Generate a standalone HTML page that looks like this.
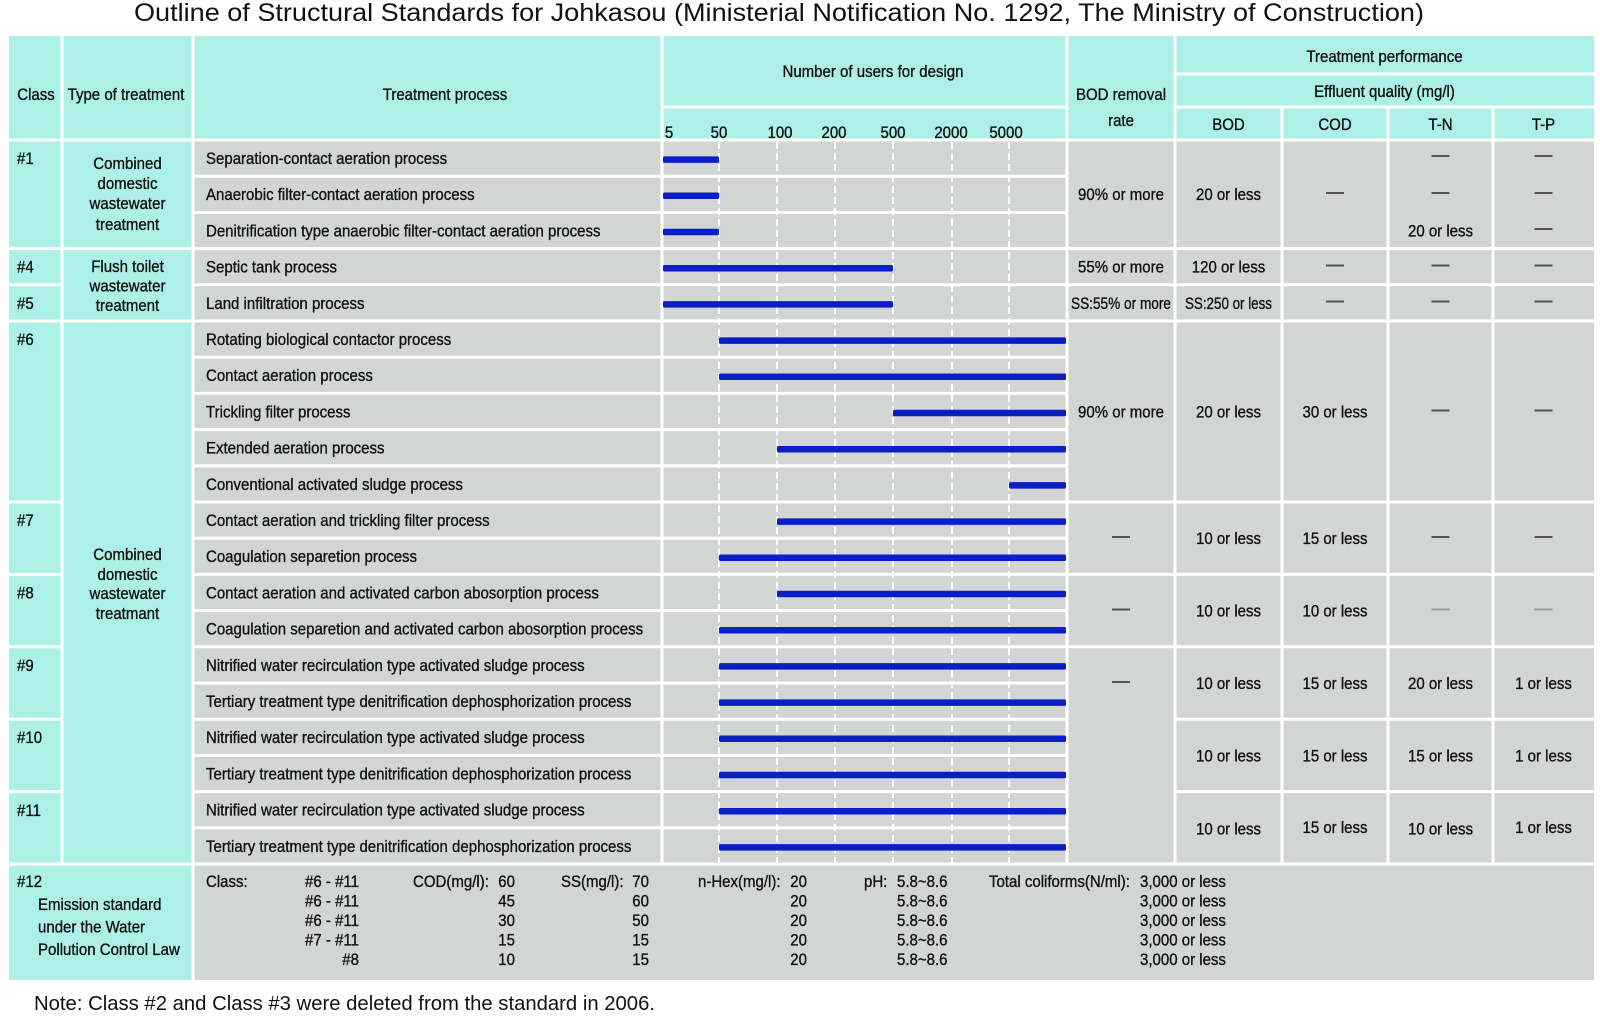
<!DOCTYPE html>
<html>
<head>
<meta charset="utf-8">
<style>
  html,body{margin:0;padding:0;background:#ffffff;}
  svg{display:block;}
  .t{font-family:"Liberation Sans",Arial,sans-serif;font-size:16.5px;fill:#111;stroke:#111;stroke-width:0.35px;}
  .r{font-family:"Liberation Sans",Arial,sans-serif;fill:#111;}
</style>
</head>
<body>
<svg width="1600" height="1021" viewBox="0 0 1600 1021" xmlns="http://www.w3.org/2000/svg">
  <!-- Title -->
  <text class="r" x="134" y="21" font-size="25" textLength="1290" lengthAdjust="spacingAndGlyphs">Outline of Structural Standards for Johkasou (Ministerial Notification No. 1292, The Ministry of Construction)</text>

  <!-- Backgrounds -->
  <rect x="9" y="36" width="1585" height="104" fill="#adf0e7"/>
  <rect x="9" y="140" width="184" height="840" fill="#adf0e7"/>
  <rect x="193" y="140" width="1401" height="840" fill="#d3d5d5"/>

  <!-- Dashed tick lines -->
  <g stroke="#ffffff" stroke-width="2" stroke-dasharray="7 4" fill="none">
    <path d="M719 142 V864 M777 142 V864 M835 142 V864 M893 142 V864 M952 142 V864 M1009 142 V864"/>
  </g>

  <!-- Grid lines -->
  <g stroke="#ffffff" stroke-width="3" fill="none">
    <path d="M62 36 V864 M193 36 V980 M662 36 V864 M1067 36 V864 M1175 36 V864 M1282 107 V864 M1388 107 V864 M1493 107 V864"/>
    <path d="M9 140 H1594 M662 107 H1067 M1175 107 H1594 M1175 74 H1594 M9 864 H1594"/>
    <path d="M193 176.2 H1067 M193 212.4 H1067 M193 248.6 H1067 M193 284.8 H1067 M193 321 H1067 M193 357.2 H1067 M193 393.4 H1067 M193 429.6 H1067 M193 465.8 H1067 M193 502 H1067 M193 538.2 H1067 M193 574.4 H1067 M193 610.6 H1067 M193 646.8 H1067 M193 683 H1067 M193 719.2 H1067 M193 755.4 H1067 M193 791.6 H1067 M193 827.8 H1067"/>
    <path d="M9 248.6 H62 M9 284.8 H62 M9 321 H62 M9 502 H62 M9 574.4 H62 M9 646.8 H62 M9 719.2 H62 M9 791.6 H62"/>
    <path d="M62 248.6 H193 M62 321 H193"/>
    <path d="M1067 248.6 H1175 M1067 284.8 H1175 M1067 321 H1175 M1067 502 H1175 M1067 574.4 H1175 M1067 646.8 H1175"/>
    <path d="M1175 248.6 H1594 M1175 284.8 H1594 M1175 321 H1594 M1175 502 H1594 M1175 574.4 H1594 M1175 646.8 H1594 M1175 719.2 H1594 M1175 791.6 H1594"/>
  </g>

  <!-- Bars -->
  <g fill="#0a1ec8">
    <rect x="663" y="156.35" width="56" height="6.5" rx="1.5"/>
    <rect x="663" y="192.55" width="56" height="6.5" rx="1.5"/>
    <rect x="663" y="228.75" width="56" height="6.5" rx="1.5"/>
    <rect x="663" y="264.95" width="230" height="6.5" rx="1.5"/>
    <rect x="663" y="301.15" width="230" height="6.5" rx="1.5"/>
    <rect x="719" y="337.35" width="347" height="6.5" rx="1.5"/>
    <rect x="719" y="373.55" width="347" height="6.5" rx="1.5"/>
    <rect x="893" y="409.75" width="173" height="6.5" rx="1.5"/>
    <rect x="777" y="445.95" width="289" height="6.5" rx="1.5"/>
    <rect x="1009" y="482.15" width="57" height="6.5" rx="1.5"/>
    <rect x="777" y="518.35" width="289" height="6.5" rx="1.5"/>
    <rect x="719" y="554.55" width="347" height="6.5" rx="1.5"/>
    <rect x="777" y="590.75" width="289" height="6.5" rx="1.5"/>
    <rect x="719" y="626.95" width="347" height="6.5" rx="1.5"/>
    <rect x="719" y="663.15" width="347" height="6.5" rx="1.5"/>
    <rect x="719" y="699.35" width="347" height="6.5" rx="1.5"/>
    <rect x="719" y="735.55" width="347" height="6.5" rx="1.5"/>
    <rect x="719" y="771.75" width="347" height="6.5" rx="1.5"/>
    <rect x="719" y="807.95" width="347" height="6.5" rx="1.5"/>
    <rect x="719" y="844.15" width="347" height="6.5" rx="1.5"/>
  </g>

  <!-- Header texts -->
  <g class="t" text-anchor="middle">
    <text transform="translate(36 100) scale(.91 1)">Class</text>
    <text transform="translate(126 100) scale(.91 1)">Type of treatment</text>
    <text transform="translate(445 100) scale(.91 1)">Treatment process</text>
    <text transform="translate(873 77) scale(.91 1)">Number of users for design</text>
    <text transform="translate(669 138) scale(.91 1)">5</text>
    <text transform="translate(719 138) scale(.91 1)">50</text>
    <text transform="translate(780 138) scale(.91 1)">100</text>
    <text transform="translate(834 138) scale(.91 1)">200</text>
    <text transform="translate(893 138) scale(.91 1)">500</text>
    <text transform="translate(951 138) scale(.91 1)">2000</text>
    <text transform="translate(1006 138) scale(.91 1)">5000</text>
    <text transform="translate(1121 100) scale(.91 1)">BOD removal</text>
    <text transform="translate(1121 126) scale(.91 1)">rate</text>
    <text transform="translate(1384.5 62) scale(.91 1)">Treatment performance</text>
    <text transform="translate(1384.5 97) scale(.91 1)">Effluent quality (mg/l)</text>
    <text transform="translate(1228.5 130) scale(.91 1)">BOD</text>
    <text transform="translate(1335 130) scale(.91 1)">COD</text>
    <text transform="translate(1440.5 130) scale(.91 1)">T-N</text>
    <text transform="translate(1543.5 130) scale(.91 1)">T-P</text>
  </g>

  <!-- Class labels -->
  <g class="t">
    <text transform="translate(17 164) scale(.91 1)">#1</text>
    <text transform="translate(17 272.7) scale(.91 1)">#4</text>
    <text transform="translate(17 309) scale(.91 1)">#5</text>
    <text transform="translate(17 345) scale(.91 1)">#6</text>
    <text transform="translate(17 526) scale(.91 1)">#7</text>
    <text transform="translate(17 598.5) scale(.91 1)">#8</text>
    <text transform="translate(17 671) scale(.91 1)">#9</text>
    <text transform="translate(17 743) scale(.91 1)">#10</text>
    <text transform="translate(17 816) scale(.91 1)">#11</text>
    <text transform="translate(17 887) scale(.91 1)">#12</text>
    <text transform="translate(38 910) scale(.91 1)">Emission standard</text>
    <text transform="translate(38 932.5) scale(.91 1)">under the Water</text>
    <text transform="translate(38 955) scale(.91 1)">Pollution Control Law</text>
  </g>

  <!-- Type of treatment -->
  <g class="t" text-anchor="middle">
    <text transform="translate(127.5 169) scale(.91 1)">Combined</text>
    <text transform="translate(127.5 189) scale(.91 1)">domestic</text>
    <text transform="translate(127.5 209) scale(.91 1)">wastewater</text>
    <text transform="translate(127.5 230) scale(.91 1)">treatment</text>
    <text transform="translate(127.5 272) scale(.91 1)">Flush toilet</text>
    <text transform="translate(127.5 291.5) scale(.91 1)">wastewater</text>
    <text transform="translate(127.5 311) scale(.91 1)">treatment</text>
    <text transform="translate(127.5 560) scale(.91 1)">Combined</text>
    <text transform="translate(127.5 580) scale(.91 1)">domestic</text>
    <text transform="translate(127.5 599) scale(.91 1)">wastewater</text>
    <text transform="translate(127.5 619) scale(.91 1)">treatmant</text>
  </g>

  <!-- Treatment process names -->
  <g class="t">
    <text transform="translate(206 164) scale(.91 1)">Separation-contact aeration process</text>
    <text transform="translate(206 200) scale(.91 1)">Anaerobic filter-contact aeration process</text>
    <text transform="translate(206 236.5) scale(.91 1)">Denitrification type anaerobic filter-contact aeration process</text>
    <text transform="translate(206 272.7) scale(.91 1)">Septic tank process</text>
    <text transform="translate(206 309) scale(.91 1)">Land infiltration process</text>
    <text transform="translate(206 345) scale(.91 1)">Rotating biological contactor process</text>
    <text transform="translate(206 381) scale(.91 1)">Contact aeration process</text>
    <text transform="translate(206 417.5) scale(.91 1)">Trickling filter process</text>
    <text transform="translate(206 453.7) scale(.91 1)">Extended aeration process</text>
    <text transform="translate(206 490) scale(.91 1)">Conventional activated sludge process</text>
    <text transform="translate(206 526) scale(.91 1)">Contact aeration and trickling filter process</text>
    <text transform="translate(206 562) scale(.91 1)">Coagulation separetion process</text>
    <text transform="translate(206 598.5) scale(.91 1)">Contact aeration and activated carbon abosorption process</text>
    <text transform="translate(206 634.7) scale(.91 1)">Coagulation separetion and activated carbon abosorption process</text>
    <text transform="translate(206 671) scale(.91 1)">Nitrified water recirculation type activated sludge process</text>
    <text transform="translate(206 707) scale(.91 1)">Tertiary treatment type denitrification dephosphorization process</text>
    <text transform="translate(206 743) scale(.91 1)">Nitrified water recirculation type activated sludge process</text>
    <text transform="translate(206 779.5) scale(.91 1)">Tertiary treatment type denitrification dephosphorization process</text>
    <text transform="translate(206 815.7) scale(.91 1)">Nitrified water recirculation type activated sludge process</text>
    <text transform="translate(206 852) scale(.91 1)">Tertiary treatment type denitrification dephosphorization process</text>
  </g>

  <!-- Performance values -->
  <g class="t" text-anchor="middle">
    <text transform="translate(1121 200) scale(.91 1)">90% or more</text>
    <text transform="translate(1228.5 200) scale(.91 1)">20 or less</text>
    <text transform="translate(1440.5 236.5) scale(.91 1)">20 or less</text>
    <text transform="translate(1121 272.7) scale(.91 1)">55% or more</text>
    <text transform="translate(1228.5 272.7) scale(.91 1)">120 or less</text>
    <text x="1121" y="309" textLength="100" lengthAdjust="spacingAndGlyphs">SS:55% or more</text>
    <text x="1228.5" y="309" textLength="87" lengthAdjust="spacingAndGlyphs">SS:250 or less</text>
    <text transform="translate(1121 417.5) scale(.91 1)">90% or more</text>
    <text transform="translate(1228.5 417.5) scale(.91 1)">20 or less</text>
    <text transform="translate(1335 417.5) scale(.91 1)">30 or less</text>
    <text transform="translate(1228.5 544) scale(.91 1)">10 or less</text>
    <text transform="translate(1335 544) scale(.91 1)">15 or less</text>
    <text transform="translate(1228.5 616.5) scale(.91 1)">10 or less</text>
    <text transform="translate(1335 616.5) scale(.91 1)">10 or less</text>
    <text transform="translate(1228.5 689) scale(.91 1)">10 or less</text>
    <text transform="translate(1335 689) scale(.91 1)">15 or less</text>
    <text transform="translate(1440.5 689) scale(.91 1)">20 or less</text>
    <text transform="translate(1543.5 689) scale(.91 1)">1 or less</text>
    <text transform="translate(1228.5 761.5) scale(.91 1)">10 or less</text>
    <text transform="translate(1335 761.5) scale(.91 1)">15 or less</text>
    <text transform="translate(1440.5 761.5) scale(.91 1)">15 or less</text>
    <text transform="translate(1543.5 761.5) scale(.91 1)">1 or less</text>
    <text transform="translate(1228.5 834.5) scale(.91 1)">10 or less</text>
    <text transform="translate(1335 833) scale(.91 1)">15 or less</text>
    <text transform="translate(1440.5 834.5) scale(.91 1)">10 or less</text>
    <text transform="translate(1543.5 833) scale(.91 1)">1 or less</text>
  </g>

  <!-- Dashes (—) -->
  <g fill="#555">
    <rect x="1326" y="192" width="18" height="2"/>
    <rect x="1431.5" y="155" width="18" height="2"/>
    <rect x="1431.5" y="192" width="18" height="2"/>
    <rect x="1534.5" y="155" width="18" height="2"/>
    <rect x="1534.5" y="192" width="18" height="2"/>
    <rect x="1534.5" y="228" width="18" height="2"/>
    <rect x="1326" y="264.5" width="18" height="2"/>
    <rect x="1431.5" y="264.5" width="18" height="2"/>
    <rect x="1534.5" y="264.5" width="18" height="2"/>
    <rect x="1326" y="300.5" width="18" height="2"/>
    <rect x="1431.5" y="300.5" width="18" height="2"/>
    <rect x="1534.5" y="300.5" width="18" height="2"/>
    <rect x="1431.5" y="409.5" width="18" height="2"/>
    <rect x="1534.5" y="409.5" width="18" height="2"/>
    <rect x="1112" y="536" width="18" height="2"/>
    <rect x="1431.5" y="536" width="18" height="2"/>
    <rect x="1534.5" y="536" width="18" height="2"/>
    <rect x="1112" y="608.5" width="18" height="2"/>
    <rect x="1112" y="681" width="18" height="2"/>
  </g>
  <g fill="#9a9c9c">
    <rect x="1431.5" y="608.5" width="18" height="2"/>
    <rect x="1534.5" y="608.5" width="18" height="2"/>
  </g>

  <!-- #12 emission standard block -->
  <g class="t">
    <text transform="translate(206 887) scale(.91 1)">Class:</text>
    <text transform="translate(413 887) scale(.91 1)">COD(mg/l):</text>
    <text transform="translate(561 887) scale(.91 1)">SS(mg/l):</text>
    <text transform="translate(698 887) scale(.91 1)">n-Hex(mg/l):</text>
    <text transform="translate(864 887) scale(.91 1)">pH:</text>
    <text transform="translate(989 887) scale(.91 1)">Total coliforms(N/ml):</text>

    <text transform="translate(897 887) scale(.91 1)">5.8~8.6</text>
    <text transform="translate(897 906.5) scale(.91 1)">5.8~8.6</text>
    <text transform="translate(897 926) scale(.91 1)">5.8~8.6</text>
    <text transform="translate(897 945.5) scale(.91 1)">5.8~8.6</text>
    <text transform="translate(897 965) scale(.91 1)">5.8~8.6</text>

    <text transform="translate(1140 887) scale(.91 1)">3,000 or less</text>
    <text transform="translate(1140 906.5) scale(.91 1)">3,000 or less</text>
    <text transform="translate(1140 926) scale(.91 1)">3,000 or less</text>
    <text transform="translate(1140 945.5) scale(.91 1)">3,000 or less</text>
    <text transform="translate(1140 965) scale(.91 1)">3,000 or less</text>
  </g>
  <g class="t" text-anchor="end">
    <text transform="translate(359 887) scale(.91 1)">#6 - #11</text>
    <text transform="translate(359 906.5) scale(.91 1)">#6 - #11</text>
    <text transform="translate(359 926) scale(.91 1)">#6 - #11</text>
    <text transform="translate(359 945.5) scale(.91 1)">#7 - #11</text>
    <text transform="translate(359 965) scale(.91 1)">#8</text>

    <text transform="translate(515 887) scale(.91 1)">60</text>
    <text transform="translate(515 906.5) scale(.91 1)">45</text>
    <text transform="translate(515 926) scale(.91 1)">30</text>
    <text transform="translate(515 945.5) scale(.91 1)">15</text>
    <text transform="translate(515 965) scale(.91 1)">10</text>

    <text transform="translate(649 887) scale(.91 1)">70</text>
    <text transform="translate(649 906.5) scale(.91 1)">60</text>
    <text transform="translate(649 926) scale(.91 1)">50</text>
    <text transform="translate(649 945.5) scale(.91 1)">15</text>
    <text transform="translate(649 965) scale(.91 1)">15</text>

    <text transform="translate(807 887) scale(.91 1)">20</text>
    <text transform="translate(807 906.5) scale(.91 1)">20</text>
    <text transform="translate(807 926) scale(.91 1)">20</text>
    <text transform="translate(807 945.5) scale(.91 1)">20</text>
    <text transform="translate(807 965) scale(.91 1)">20</text>
  </g>

  <!-- Note -->
  <text class="r" x="34" y="1010" font-size="20.3" textLength="621" lengthAdjust="spacingAndGlyphs">Note: Class #2 and Class #3 were deleted from the standard in 2006.</text>
</svg>
</body>
</html>
